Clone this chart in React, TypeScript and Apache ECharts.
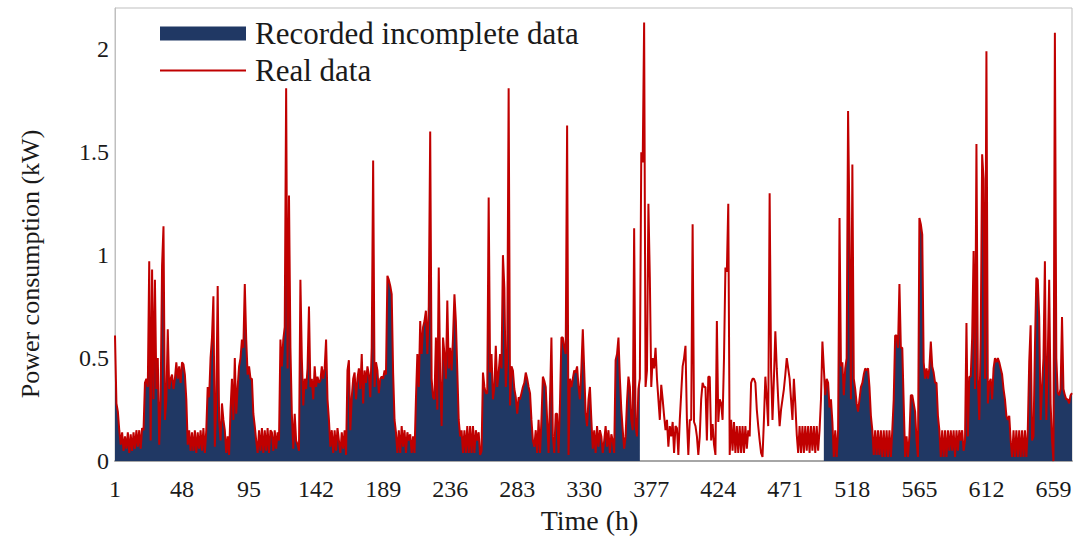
import React, { useEffect, useRef } from "react";
import * as echarts from "echarts";

// Half-hourly power consumption (kW), 14 days x 48 readings
const day01 = [0.61,0.28,0.24,0.15,0.08,0.14,0.05,0.12,0.06,0.14,0.04,0.13,0.05,0.14,0.06,0.15,0.07,0.15,0.06,0.16,0.15,0.38,0.40,0.36,0.97,0.10,0.93,0.30,0.88,0.35,0.50,0.08,0.30,0.95,1.14,0.20,0.30,0.64,0.35,0.40,0.42,0.35,0.40,0.48,0.40,0.46,0.38,0.48];
const day02 = [0.47,0.42,0.30,0.08,0.15,0.05,0.14,0.05,0.15,0.04,0.14,0.06,0.15,0.05,0.16,0.04,0.15,0.36,0.31,0.50,0.60,0.80,0.07,0.30,0.85,0.20,0.10,0.28,0.20,0.15,0.04,0.12,0.03,0.25,0.40,0.20,0.50,0.23,0.36,0.46,0.50,0.59,0.55,0.86,0.59,0.42,0.46,0.40];
const day03 = [0.40,0.23,0.17,0.10,0.04,0.15,0.05,0.16,0.04,0.15,0.05,0.16,0.04,0.15,0.14,0.05,0.15,0.06,0.14,0.10,0.59,0.46,0.59,0.65,1.81,0.45,1.29,0.55,0.23,0.06,0.23,0.10,0.08,0.05,0.88,0.50,0.27,0.40,0.35,0.45,0.75,0.36,0.40,0.30,0.46,0.36,0.41,0.38];
const day04 = [0.39,0.46,0.40,0.45,0.59,0.30,0.20,0.07,0.15,0.04,0.15,0.05,0.16,0.10,0.04,0.14,0.06,0.15,0.03,0.44,0.49,0.15,0.31,0.40,0.43,0.30,0.40,0.45,0.35,0.52,0.28,0.44,0.38,0.46,0.42,0.31,0.55,1.46,0.36,0.48,0.44,0.33,0.40,0.41,0.40,0.44,0.42,0.90];
const day05 = [0.88,0.85,0.81,0.43,0.20,0.14,0.04,0.15,0.04,0.17,0.07,0.15,0.04,0.14,0.10,0.13,0.04,0.12,0.04,0.30,0.52,0.36,0.68,0.52,0.65,0.68,0.73,0.52,0.75,1.60,0.40,0.31,0.30,0.60,0.25,0.94,0.40,0.17,0.60,0.52,0.40,0.78,0.45,0.55,0.44,0.60,0.81,0.68];
const day06 = [0.44,0.20,0.12,0.15,0.04,0.15,0.04,0.17,0.04,0.17,0.04,0.17,0.04,0.15,0.10,0.14,0.03,0.05,0.43,0.36,0.33,0.33,1.28,0.43,0.52,0.30,0.36,0.56,0.36,0.43,0.52,0.45,1.00,0.84,0.36,0.50,1.81,0.27,0.46,0.44,0.35,0.31,0.23,0.31,0.30,0.33,0.36,0.38];
const day07 = [0.43,0.40,0.36,0.33,0.20,0.10,0.07,0.15,0.04,0.20,0.04,0.20,0.41,0.39,0.36,0.20,0.04,0.30,0.60,0.12,0.04,0.23,0.23,0.04,0.28,0.60,0.60,0.55,0.52,1.63,0.03,0.40,0.36,0.40,0.44,0.43,0.46,0.36,0.30,0.45,0.64,0.44,0.23,0.17,0.30,0.36,0.20,0.06];
const day08 = [0.15,0.04,0.17,0.07,0.15,0.12,0.04,0.10,0.17,0.07,0.15,0.04,0.13,0.10,0.04,0.49,0.52,0.60,0.40,0.25,0.15,0.06,0.12,0.29,0.41,0.36,0.20,0.15,1.13,0.17,0.12,0.35,0.40,1.50,1.45,2.13,0.36,0.44,1.25,0.89,0.36,0.50,0.45,0.55,0.40,0.30,0.20,0.37];
const day09 = [0.30,0.22,0.15,0.20,0.07,0.17,0.12,0.19,0.04,0.17,0.16,0.03,0.20,0.33,0.46,0.50,0.56,0.20,0.03,0.20,0.20,1.15,0.19,0.17,0.12,0.03,0.12,0.30,0.38,0.36,0.36,0.10,0.41,0.41,0.10,0.18,0.08,0.03,0.68,0.19,0.30,0.28,0.20,0.50,0.94,0.92,1.25,0.03];
const day10 = [0.20,0.05,0.19,0.04,0.17,0.04,0.17,0.04,0.17,0.04,0.17,0.06,0.15,0.12,0.38,0.40,0.40,0.38,0.25,0.17,0.10,0.04,0.02,0.20,0.41,0.30,0.17,1.30,0.45,0.20,0.40,0.63,0.45,0.30,0.17,0.25,0.30,0.35,0.42,0.50,0.45,0.40,0.30,0.20,0.40,0.28,0.13,0.04];
const day11 = [0.17,0.04,0.17,0.04,0.17,0.05,0.17,0.04,0.17,0.05,0.17,0.04,0.17,0.05,0.15,0.30,0.58,0.45,0.32,0.40,0.38,0.26,0.30,0.19,0.02,0.15,0.02,0.15,1.18,0.46,0.48,0.32,0.45,0.50,1.70,1.13,0.30,1.44,0.40,0.35,0.28,0.24,0.30,0.36,0.38,0.42,0.45,0.44];
const day12 = [0.45,0.36,0.22,0.15,0.03,0.15,0.03,0.15,0.03,0.15,0.02,0.15,0.02,0.15,0.02,0.15,0.02,0.15,0.30,0.61,0.61,0.55,0.86,0.55,0.55,0.28,0.02,0.12,0.02,0.12,0.32,0.32,0.28,0.24,0.10,0.02,1.18,1.15,1.10,0.48,0.40,0.45,0.40,0.45,0.58,0.46,0.43,0.38];
const day13 = [0.38,0.22,0.15,0.02,0.15,0.02,0.15,0.02,0.15,0.05,0.15,0.05,0.15,0.02,0.15,0.05,0.15,0.10,0.15,0.05,0.10,0.67,0.12,0.41,0.41,0.60,1.02,0.35,1.54,0.40,0.20,0.60,1.49,1.37,0.40,1.99,0.28,0.38,0.40,0.30,0.45,0.50,0.48,0.50,0.48,0.45,0.42,0.35];
const day14 = [0.30,0.22,0.20,0.22,0.10,0.02,0.15,0.02,0.15,0.02,0.15,0.02,0.15,0.02,0.15,0.02,0.15,0.48,0.66,0.10,0.12,0.55,0.89,0.88,0.70,0.20,0.36,0.50,0.97,0.20,0.50,0.88,0.28,0.10,0.00,2.08,0.50,0.33,0.32,0.35,0.70,0.35,0.32,0.30,0.30,0.28,0.32,0.33];

// Readings missing from the recorded series (inclusive time indices)
const missingFrom = 370;
const missingTo = 497;

const realData = [
  ...day01, ...day02, ...day03, ...day04, ...day05, ...day06, ...day07,
  ...day08, ...day09, ...day10, ...day11, ...day12, ...day13, ...day14,
];
const timeLabels = realData.map((_, i) => String(i + 1));
const recordedData = realData.map((v, i) =>
  i + 1 >= missingFrom && i + 1 <= missingTo ? null : v
);

const FONT = "'Liberation Serif', 'Times New Roman', serif";
const NAVY = "#203864";
const RED = "#c00000";
const TEXT = "#1a1a1a";

export default function App() {
  const ref = useRef<HTMLDivElement>(null);
  useEffect(() => {
    if (!ref.current) return;
    const chart = echarts.init(ref.current, undefined, { renderer: "svg" });
    chart.setOption({
      animation: false,
      backgroundColor: "#ffffff",
      grid: {
        left: 115,
        right: 9,
        top: 8,
        bottom: 77,
        show: true,
        borderColor: "#bfbfbf",
        borderWidth: 1,
      },
      graphic: [
        {
          type: "text",
          x: 30,
          y: 264,
          rotation: Math.PI / 2,
          style: {
            text: "Power consumption (kW)",
            fontFamily: FONT,
            fontSize: 26,
            fill: TEXT,
            align: "center",
            verticalAlign: "middle",
          },
        },
      ],
      legend: {
        orient: "vertical",
        left: 155,
        top: 12,
        itemWidth: 86,
        itemHeight: 14,
        itemGap: 4,
        symbolKeepAspect: true,
        textStyle: {
          fontFamily: FONT,
          fontSize: 31,
          lineHeight: 33,
          color: TEXT,
          padding: [0, 0, 0, 4],
        },
        data: [
          { name: "Recorded incomplete data", icon: "rect" },
          { name: "Real data", icon: "path://M0 0H86V2H0Z" },
        ],
      },
      xAxis: {
        type: "category",
        data: timeLabels,
        boundaryGap: false,
        name: "Time (h)",
        nameLocation: "middle",
        nameGap: 44,
        nameTextStyle: { fontFamily: FONT, fontSize: 28, color: TEXT, padding: [0, 8, 0, 0] },
        axisLine: { lineStyle: { color: "#a6a6a6", width: 2 } },
        axisTick: { show: false },
        axisLabel: {
          interval: 46,
          fontFamily: FONT,
          fontSize: 24,
          color: TEXT,
          margin: 16,
        },
        splitLine: { show: false },
      },
      yAxis: {
        type: "value",
        min: 0,
        max: 2.2,
        interval: 0.5,
        axisLine: { show: true, lineStyle: { color: "#bfbfbf", width: 1 } },
        axisTick: { show: false },
        axisLabel: {
          fontFamily: FONT,
          fontSize: 24,
          color: TEXT,
          margin: 6,
          showMaxLabel: false,
        },
        splitLine: { show: false },
      },
      series: [
        {
          name: "Recorded incomplete data",
          type: "line",
          data: recordedData,
          showSymbol: false,
          symbol: "none",
          connectNulls: false,
          color: NAVY,
          itemStyle: { color: NAVY },
          lineStyle: { width: 0, color: NAVY },
          areaStyle: { color: NAVY, opacity: 1 },
          z: 2,
        },
        {
          name: "Real data",
          type: "line",
          data: realData,
          showSymbol: false,
          symbol: "none",
          color: RED,
          itemStyle: { color: RED },
          lineStyle: { width: 2, color: RED },
          z: 3,
        },
      ],
    });
    return () => chart.dispose();
  }, []);
  return (
    <div
      ref={ref}
      style={{ position: "absolute", left: 0, top: 0, width: 1081, height: 539 }}
    />
  );
}
